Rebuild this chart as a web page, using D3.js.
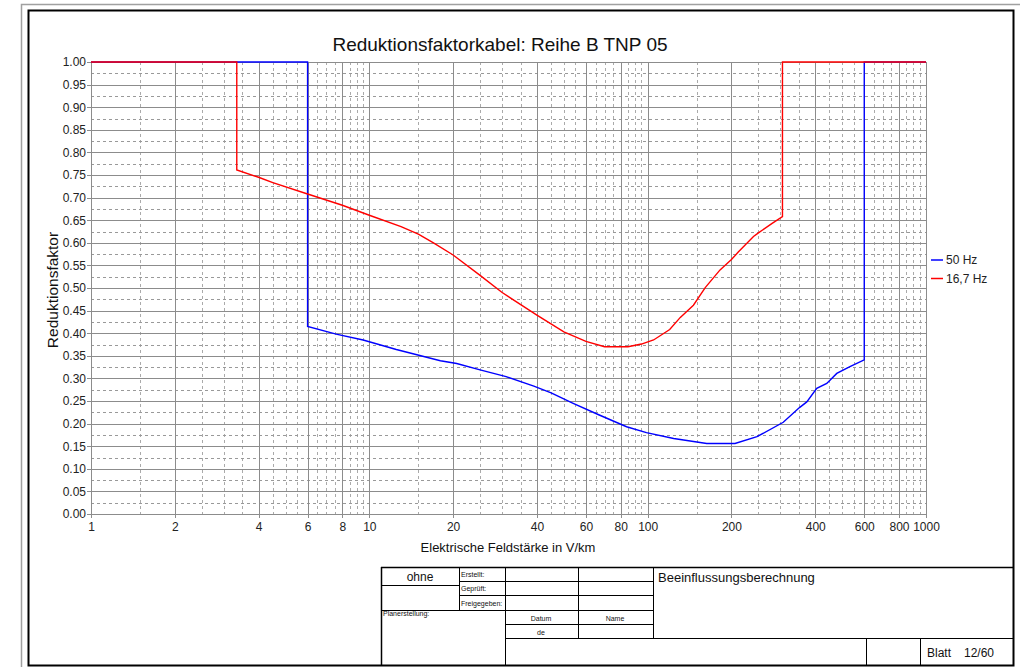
<!DOCTYPE html>
<html>
<head>
<meta charset="utf-8">
<title>Reduktionsfaktorkabel</title>
<style>
  html, body { margin: 0; padding: 0; background: #fff; }
  svg { display: block; font-family: "Liberation Sans", Arial, sans-serif; }
</style>
</head>
<body>
<svg id="chart" width="1020" height="667"></svg>
<script src="https://cdn.jsdelivr.net/npm/d3@7/dist/d3.min.js"></script>
<script>
// values
const xTicks = [1, 2, 4, 6, 8, 10, 20, 40, 60, 80, 100, 200, 400, 600, 800, 1000];
const yTicks = [0, 0.05, 0.1, 0.15, 0.2, 0.25, 0.3, 0.35, 0.4, 0.45, 0.5,
                0.55, 0.6, 0.65, 0.7, 0.75, 0.8, 0.85, 0.9, 0.95, 1];

const blue50 = [
  [1, 1], [6, 1], [6, 0.415], [7.6, 0.398], [9.5, 0.385], [12.5, 0.364],
  [18, 0.339], [20.6, 0.333], [25, 0.319], [31, 0.304], [39, 0.283], [45, 0.268],
  [54, 0.245], [67, 0.219], [84, 0.193], [99, 0.180], [124, 0.167], [163, 0.156],
  [206, 0.156], [247, 0.171], [307, 0.203], [352, 0.236], [373, 0.248],
  [405, 0.278], [440, 0.289], [478, 0.311], [533, 0.326], [600, 0.341],
  [600, 1], [1000, 1]
];

const red167 = [
  [1, 1], [3.34, 1], [3.34, 0.761], [4, 0.745], [4.5, 0.733], [6, 0.708],
  [8, 0.683], [10, 0.661], [13, 0.636], [15, 0.619], [17, 0.600], [20, 0.573],
  [25, 0.528], [30, 0.490], [40, 0.440], [50, 0.403], [60, 0.382], [70, 0.370],
  [85, 0.370], [95, 0.376], [105, 0.385], [120, 0.408], [131, 0.435],
  [146, 0.462], [161, 0.501], [182, 0.540], [200, 0.563], [212, 0.580],
  [240, 0.614], [250, 0.622], [280, 0.643], [305, 0.658], [305, 1], [1000, 1]
];

const series = [
  {name: "50 Hz", color: "#0000ff", values: blue50},
  {name: "16,7 Hz", color: "#ff0000", values: red167}
];

const svg = d3.select("#chart");

// drawing sheet frame
svg.append("path")
   .attr("d", "M21.5,667 V4.5 H1020")
   .attr("fill", "none").attr("stroke", "#a0a0a0").attr("stroke-width", 1.5);
svg.append("rect")
   .attr("x", 28.5).attr("y", 10.5).attr("width", 985).attr("height", 655)
   .attr("fill", "none").attr("stroke", "#000").attr("stroke-width", 2);

const x = d3.scaleLog().domain([1, 1000]).range([91, 926]);
const y = d3.scaleLinear().domain([0, 1]).range([514, 62]);

// minor grid positions (every half unit in each decade, except the labelled ones)
const xMinor = [];
[1, 10, 100].forEach(d => {
  for (let m = 1.5; m < 10; m += 0.5) {
    if (!xTicks.includes(m * d)) xMinor.push(m * d);
  }
});
const yMinor = yTicks.slice(1).map(v => v - 0.025);

const grid = svg.append("g");
const px = v => Math.round(v) + 0.5;

grid.selectAll(".xminor").data(xMinor).enter().append("line")
    .attr("x1", d => px(x(d))).attr("x2", d => px(x(d)))
    .attr("y1", y(1)).attr("y2", y(0) + 3)
    .attr("stroke", "#aaa").attr("stroke-dasharray", "3,3");
grid.selectAll(".yminor").data(yMinor).enter().append("line")
    .attr("x1", x(1)).attr("x2", x(1000))
    .attr("y1", d => px(y(d))).attr("y2", d => px(y(d)))
    .attr("stroke", "#999").attr("stroke-dasharray", "3,3");
grid.selectAll(".xmajor").data(xTicks).enter().append("line")
    .attr("x1", d => px(x(d))).attr("x2", d => px(x(d)))
    .attr("y1", y(1)).attr("y2", y(0) + 4)
    .attr("stroke", "#8c8c8c");
grid.selectAll(".ymajor").data(yTicks).enter().append("line")
    .attr("x1", x(1) - 4).attr("x2", x(1000))
    .attr("y1", d => px(y(d))).attr("y2", d => px(y(d)))
    .attr("stroke", "#8c8c8c");

// axes (labels only, grid drawn above)
const xAxis = svg.append("g")
   .attr("transform", "translate(0," + y(0) + ")")
   .call(d3.axisBottom(x).tickValues(xTicks).tickSize(0).tickPadding(8)
           .tickFormat(d3.format("d")));
const yAxis = svg.append("g")
   .attr("transform", "translate(" + x(1) + ",0)")
   .call(d3.axisLeft(y).tickValues(yTicks).tickSize(0).tickPadding(5)
           .tickFormat(d3.format(".2f")));
[xAxis, yAxis].forEach(a => {
  a.select(".domain").remove();
  a.selectAll("text").attr("font-size", 12).attr("fill", "#222")
   .attr("font-family", "Liberation Sans, Arial, sans-serif");
});

// curves
const line = d3.line().x(d => x(d[0])).y(d => y(d[1]));
svg.selectAll(".series").data(series).enter().append("path")
   .attr("d", d => line(d.values))
   .attr("fill", "none")
   .attr("stroke", d => d.color)
   .attr("stroke-width", 1.4);

// titles
svg.append("text").attr("x", 500).attr("y", 51).attr("text-anchor", "middle")
   .attr("font-size", 19).attr("fill", "#111")
   .text("Reduktionsfaktorkabel: Reihe B TNP 05");
svg.append("text").attr("x", 508).attr("y", 552).attr("text-anchor", "middle")
   .attr("font-size", 13).attr("fill", "#111")
   .text("Elektrische Feldstärke in V/km");
svg.append("text").attr("transform", "translate(58,290) rotate(-90)")
   .attr("text-anchor", "middle").attr("font-size", 15.5).attr("fill", "#111")
   .text("Reduktionsfaktor");

// legend
const legend = svg.selectAll(".legend").data(series).enter().append("g")
   .attr("transform", (d, i) => "translate(931," + (260 + i * 18.5) + ")");
legend.append("line").attr("x1", 0).attr("x2", 12)
   .attr("stroke", d => d.color).attr("stroke-width", 1.5);
legend.append("text").attr("x", 15).attr("y", 4)
   .attr("font-size", 12).attr("fill", "#222").text(d => d.name);

// title block
const tb = svg.append("g").attr("stroke", "#000").attr("fill", "none");
const seg = (x1, y1, x2, y2, w) => tb.append("line")
   .attr("x1", x1).attr("y1", y1).attr("x2", x2).attr("y2", y2)
   .attr("stroke-width", w || 1);
seg(381, 567.5, 1014, 567.5, 1.5);
seg(381.5, 567, 381.5, 666, 1.5);
seg(459.5, 567, 459.5, 610);
seg(505.5, 567, 505.5, 666);
seg(578.5, 567, 578.5, 638);
seg(653.5, 567, 653.5, 638);
seg(381, 585.5, 459, 585.5);
seg(459, 581.5, 653, 581.5);
seg(459, 595.5, 653, 595.5);
seg(381, 610.5, 653, 610.5);
seg(505, 624.5, 653, 624.5);
seg(505, 638.5, 1014, 638.5);
seg(866.5, 638, 866.5, 666);
seg(920.5, 638, 920.5, 666);

const tbText = (tx, ty, s, size, anchor) => svg.append("text")
   .attr("x", tx).attr("y", ty).attr("font-size", size)
   .attr("text-anchor", anchor || "start").attr("fill", "#111").text(s);
tbText(420, 581, "ohne", 12, "middle");
tbText(461, 577, "Erstellt:", 7);
tbText(461, 591, "Geprüft:", 7);
tbText(461, 606, "Freigegeben:", 7);
tbText(383, 616, "Planerstellung:", 7);
tbText(541, 621, "Datum", 7, "middle");
tbText(615, 621, "Name", 7, "middle");
tbText(541, 635, "de", 7, "middle");
tbText(658, 582, "Beeinflussungsberechnung", 13);
tbText(927, 657, "Blatt", 12);
tbText(964, 657, "12/60", 12);
</script>
</body>
</html>
